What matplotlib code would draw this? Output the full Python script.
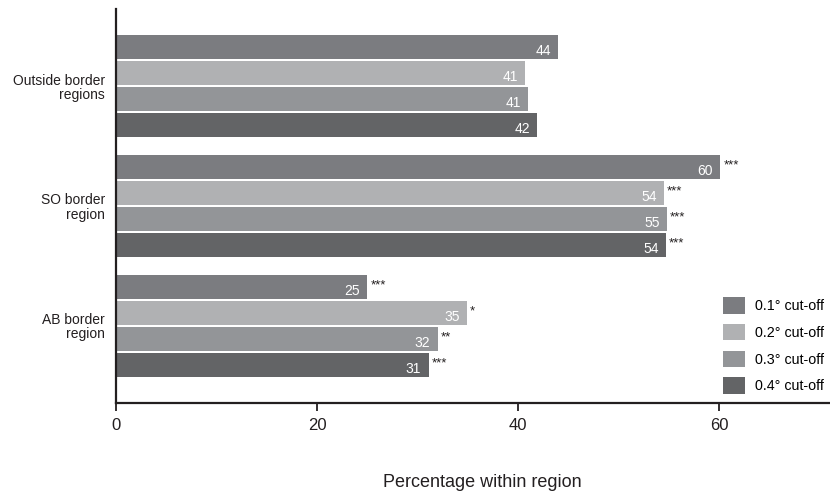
import numpy as np
import matplotlib
matplotlib.use("Agg")
import matplotlib.pyplot as plt

plt.rcParams['font.family'] = ['Liberation Sans', 'DejaVu Sans']

regions = ['Outside border\nregions', 'SO border\nregion', 'AB border\nregion']
cutoffs = ['0.1° cut-off', '0.2° cut-off', '0.3° cut-off', '0.4° cut-off']
colors = ['#7b7c80', '#b0b1b3', '#939598', '#636466']

# bar lengths, one list per cut-off (outside, SO, AB)
vals_01 = [44.0, 60.1, 25.0]
vals_02 = [40.7, 54.5, 34.9]
vals_03 = [41.0, 54.8, 32.0]
vals_04 = [41.9, 54.7, 31.1]

# printed labels
labels_01 = ['44', '60', '25']
labels_02 = ['41', '54', '35']
labels_03 = ['41', '55', '32']
labels_04 = ['42', '54', '31']

# significance stars
stars_01 = ['', '***', '***']
stars_02 = ['', '***', '*']
stars_03 = ['', '***', '**']
stars_04 = ['', '***', '***']

series = [vals_01, vals_02, vals_03, vals_04]
labels = [labels_01, labels_02, labels_03, labels_04]
stars = [stars_01, stars_02, stars_03, stars_04]

fig = plt.figure(figsize=(8.30, 4.93), dpi=100)
ax = fig.add_axes([116 / 830, 1 - 403 / 493, 1 - 116 / 830, (403 - 9) / 493])

pitch = 26 / 120
height = 24.5 / 120
y = np.arange(len(regions))

handles = []
for j, (vals, labs, st) in enumerate(zip(series, labels, stars)):
    pos = y + (j - 1.5) * pitch
    b = ax.barh(pos, vals, height=height, color=colors[j], label=cutoffs[j])
    handles.append(b)
    for p, v, lab, s in zip(pos, vals, labs, st):
        ax.text(v - 0.75, p + 0.03, lab, ha='right', va='center',
                color='white', fontsize=10)
        if s:
            ax.text(v + 0.3, p - 0.01, s, ha='left', va='center',
                    color='#231f20', fontsize=9.5)

ax.set_xlim(0, 71)
ax.set_ylim(len(regions) - 1 + 0.642, -0.642)

ax.set_yticks(y)
ax.set_yticklabels(regions, fontsize=10, color='#231f20')
for lab in ax.get_yticklabels():
    lab.set_linespacing(1.0)
ax.tick_params(axis='y', length=0, pad=8)

ax.set_xticks([0, 20, 40, 60])
ax.tick_params(axis='x', direction='out', length=6, width=1.3,
               labelsize=12, pad=5, colors='#231f20')

for side in ['top', 'right']:
    ax.spines[side].set_visible(False)
for side in ['left', 'bottom']:
    ax.spines[side].set_linewidth(1.6)
    ax.spines[side].set_color('#231f20')

fig.text(482 / 830, 1 - 487 / 493, 'Percentage within region', fontsize=13,
         ha='center', va='baseline', color='#231f20')

fig.legend(handles=handles, loc='upper left',
           bbox_to_anchor=(723 / 830, 1 - 297 / 493),
           bbox_transform=fig.transFigure, frameon=False, fontsize=10.3,
           handlelength=1.55, handleheight=1.4, handletextpad=0.72,
           labelspacing=0.72, borderpad=0, borderaxespad=0)

fig.savefig('out.png', dpi=100)
